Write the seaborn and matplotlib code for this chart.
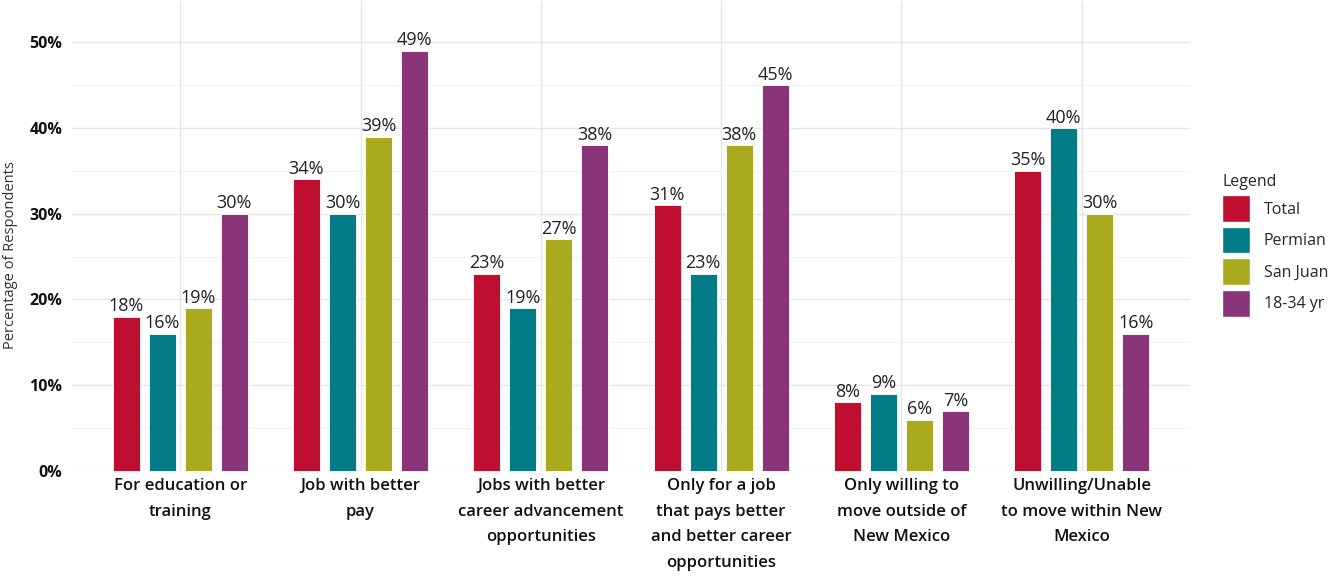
import matplotlib
matplotlib.use("Agg")
import matplotlib.pyplot as plt
import seaborn as sns
import pandas as pd
from matplotlib.patches import Patch
from matplotlib.ticker import MultipleLocator, FuncFormatter

categories = [
    "For education or\ntraining",
    "Job with better\npay",
    "Jobs with better\ncareer advancement\nopportunities",
    "Only for a job\nthat pays better\nand better career\nopportunities",
    "Only willing to\nmove outside of\nNew Mexico",
    "Unwilling/Unable\nto move within New\nMexico",
]
groups = ["Total", "Permian", "San Juan", "18-34 yr"]
total = [18, 34, 23, 31, 8, 35]
permian = [16, 30, 19, 23, 9, 40]
san_juan = [19, 39, 27, 38, 6, 30]
young = [30, 49, 38, 45, 7, 16]
colors = ["#BE0F30", "#017B85", "#AAAA1E", "#8A3479"]

rows = []
for g, vals in zip(groups, [total, permian, san_juan, young]):
    for c, v in zip(categories, vals):
        rows.append({"cat": c, "grp": g, "val": v})
df = pd.DataFrame(rows)

sns.set_theme(style="white")
plt.rcParams['font.family'] = ['Open Sans', 'DejaVu Sans']

fig = plt.figure(figsize=(13.42, 5.78), dpi=100)
W, H = 1342, 578
ax = fig.add_axes([72 / W, (H - 471) / H, (1190 - 72) / W, 470 / H])

sns.barplot(data=df, x="cat", y="val", hue="grp", order=categories,
            hue_order=groups, palette=colors, width=0.8, gap=0.25,
            saturation=1, ax=ax, legend=False, edgecolor="white", linewidth=0.6)

for cont in ax.containers:
    ax.bar_label(cont, labels=[f"{int(v)}%" for v in cont.datavalues],
                 padding=1, fontsize=13, color="#222222")

ax.set_ylim(0, 54.8)
ax.set_xlim(-0.6, 5.6)
ax.yaxis.set_major_locator(MultipleLocator(10))
ax.yaxis.set_minor_locator(MultipleLocator(5))
ax.yaxis.set_major_formatter(FuncFormatter(lambda v, p: f"{int(v)}%"))
ax.grid(True, which="major", axis="both", color="#E6E6E6", linewidth=1.0)
ax.grid(True, which="minor", axis="y", color="#F2F2F2", linewidth=0.8)
ax.set_axisbelow(True)
for s in ax.spines.values():
    s.set_visible(False)
ax.tick_params(axis="both", which="both", length=0)
ax.tick_params(axis="y", labelsize=11.5, pad=7, labelcolor="#111111")
ax.tick_params(axis="x", labelsize=12, pad=5, labelcolor="#111111")
for t in ax.get_yticklabels():
    t.set_fontweight("bold")
for t in ax.get_xticklabels():
    t.set_fontweight("semibold")
    t.set_linespacing(1.8)
ax.set_xlabel("")
ax.set_ylabel("Percentage of Respondents", fontsize=10.5, color="#333333")
ax.yaxis.set_label_coords(-0.048, 0.46)

handles = [Patch(facecolor=c, edgecolor="white", label=g) for c, g in zip(colors, groups)]
leg = fig.legend(handles=handles, title="Legend", loc="upper left",
                 bbox_to_anchor=(1208 / W, 1 - 160 / H), frameon=False,
                 fontsize=11.5, title_fontsize=11.5, handlelength=1.7, handleheight=2.2,
                 labelspacing=0.3, handletextpad=0.9, alignment="left")

fig.savefig("out.png", dpi=100)
